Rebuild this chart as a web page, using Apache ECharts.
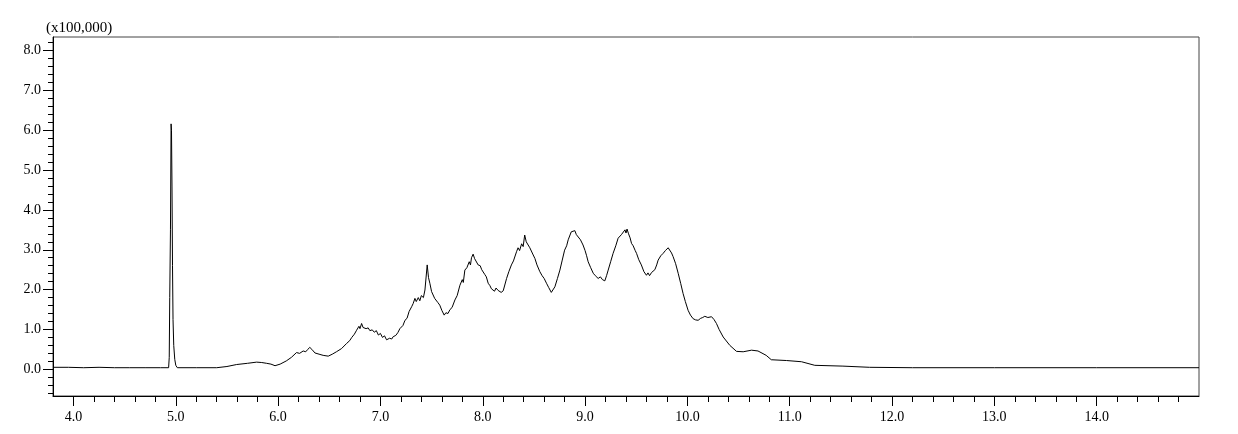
<!DOCTYPE html>
<html>
<head>
<meta charset="utf-8">
<script src="https://cdn.jsdelivr.net/npm/echarts@6/dist/echarts.min.js"></script>
<style>
html,body{margin:0;padding:0;background:#fff;}
#c{width:1238px;height:434px;}
</style>
</head>
<body>
<div id="c"></div>
<script>
// Chromatogram trace: [retention time (min), intensity (x100,000)]
const baselineBefore = [[3.80,0.05],[3.95,0.05],[4.10,0.04],[4.25,0.05],[4.40,0.04],[4.55,0.04],[4.70,0.04],[4.85,0.04],[4.93,0.04]];
const sharpPeak = [[4.936,0.3],[4.941,1.8],[4.948,3.5],[4.954,6.16],[4.958,6.0],[4.963,4.6],[4.968,2.6],[4.973,1.25],[4.980,0.6],[4.990,0.25],[5.000,0.1],[5.015,0.04]];
const earlyHump = [[5.20,0.04],[5.40,0.04],[5.50,0.07],[5.595,0.12],[5.70,0.15],[5.79,0.18],[5.84,0.17],[5.888,0.15],[5.93,0.13],[5.97,0.09],[6.02,0.13],[6.08,0.21],[6.13,0.30],[6.18,0.42],[6.21,0.40],[6.245,0.46],[6.27,0.44],[6.29,0.50],[6.31,0.55],[6.33,0.50],[6.36,0.41],[6.40,0.38],[6.44,0.35],[6.49,0.33],[6.53,0.38],[6.57,0.44],[6.62,0.52],[6.67,0.65],[6.70,0.72],[6.72,0.80],[6.745,0.88],[6.767,0.98]];
const cluster1 = [[6.79,1.08],[6.80,1.02],[6.816,1.15],[6.83,1.05],[6.845,1.10],[6.86,1.02],[6.88,1.04],[6.897,0.97],[6.92,0.99],[6.94,0.93],[6.96,0.97],[6.98,0.86],[7.00,0.90],[7.02,0.80],[7.04,0.84],[7.06,0.74],[7.076,0.70],[7.09,0.78],[7.11,0.76],[7.125,0.82],[7.15,0.85],[7.17,0.92],[7.19,1.02],[7.22,1.10],[7.24,1.23],[7.26,1.28],[7.28,1.45],[7.305,1.57],[7.32,1.65],[7.337,1.78],[7.35,1.70],[7.37,1.80],[7.385,1.72],[7.40,1.85],[7.42,1.80],[7.435,1.99],[7.457,2.62],[7.47,2.30],[7.483,2.16],[7.50,1.95],[7.515,1.90],[7.53,1.78],[7.545,1.82],[7.56,1.68],[7.58,1.61],[7.60,1.48],[7.623,1.36],[7.64,1.42],[7.66,1.40],[7.68,1.50],[7.70,1.55]];
const cluster2 = [[7.728,1.74],[7.75,1.85],[7.777,2.11],[7.80,2.25],[7.81,2.18],[7.825,2.49],[7.845,2.55],[7.868,2.70],[7.88,2.62],[7.89,2.80],[7.906,2.89],[7.92,2.78],[7.935,2.75],[7.955,2.62],[7.975,2.60],[7.99,2.50],[8.004,2.52],[8.02,2.38],[8.035,2.32],[8.053,2.16],[8.07,2.10],[8.085,2.02],[8.10,2.05],[8.115,1.96],[8.13,2.04],[8.15,1.98],[8.165,2.02],[8.18,1.93],[8.20,1.97],[8.215,1.95],[8.233,2.28],[8.255,2.45],[8.28,2.62],[8.30,2.72],[8.33,2.95],[8.345,3.05],[8.36,2.98],[8.38,3.15],[8.395,3.08],[8.41,3.37],[8.425,3.20],[8.444,3.25],[8.46,3.05],[8.475,3.00],[8.493,2.87],[8.51,2.78],[8.53,2.62],[8.545,2.58],[8.558,2.45],[8.58,2.35],[8.60,2.28],[8.623,2.16],[8.645,2.05],[8.67,1.93],[8.685,1.98],[8.705,2.07]];
const cluster3 = [[8.73,2.28],[8.754,2.49],[8.775,2.72],[8.80,2.99],[8.82,3.10],[8.835,3.25],[8.85,3.30],[8.865,3.45],[8.884,3.42],[8.90,3.48],[8.915,3.38],[8.93,3.40],[8.955,3.25],[8.98,3.12],[9.00,2.98],[9.015,2.85],[9.03,2.70],[9.055,2.55],[9.08,2.41],[9.10,2.35],[9.128,2.28],[9.15,2.32],[9.17,2.25],[9.193,2.22],[9.21,2.35],[9.226,2.49],[9.25,2.70],[9.274,2.91],[9.30,3.10],[9.323,3.29],[9.34,3.25],[9.355,3.38],[9.372,3.41],[9.39,3.50],[9.40,3.42],[9.41,3.52],[9.425,3.40],[9.44,3.30],[9.454,3.16],[9.47,3.10],[9.49,2.98],[9.503,2.91],[9.525,2.75],[9.55,2.62],[9.575,2.45],[9.60,2.36],[9.615,2.42],[9.63,2.35],[9.65,2.43],[9.665,2.40],[9.682,2.50],[9.70,2.62],[9.714,2.74],[9.74,2.85],[9.763,2.91],[9.785,2.98],[9.80,2.96],[9.812,3.05],[9.83,3.00],[9.845,2.92],[9.86,2.83]];
const tail = [[9.885,2.65],[9.91,2.41],[9.935,2.15],[9.958,1.90],[9.98,1.70],[10.007,1.48],[10.03,1.36],[10.056,1.27],[10.08,1.24],[10.105,1.23],[10.13,1.28],[10.15,1.30],[10.17,1.33],[10.20,1.30],[10.236,1.32],[10.26,1.25],[10.284,1.15],[10.31,1.00],[10.35,0.81],[10.415,0.60],[10.48,0.45],[10.545,0.44],[10.627,0.48],[10.69,0.46],[10.77,0.35],[10.82,0.24],[10.97,0.22],[11.115,0.19],[11.245,0.10],[11.52,0.08],[11.78,0.05],[12.2,0.04],[13.0,0.04],[14.0,0.04],[15.0,0.04]];

const xMajorTicks = [4,5,6,7,8,9,10,11,12,13,14];
const xMinorTicks = [4.2,4.4,4.6,4.8,5.2,5.4,5.6,5.8,6.2,6.4,6.6,6.8,7.2,7.4,7.6,7.8,8.2,8.4,8.6,8.8,9.2,9.4,9.6,9.8,10.2,10.4,10.6,10.8,11.2,11.4,11.6,11.8,12.2,12.4,12.6,12.8,13.2,13.4,13.6,13.8,14.2,14.4,14.6,14.8];
const yMajorTicks = [0,1,2,3,4,5,6,7,8];
const yMinorTicks = [-0.6,-0.4,-0.2,0.2,0.4,0.6,0.8,1.2,1.4,1.6,1.8,2.2,2.4,2.6,2.8,3.2,3.4,3.6,3.8,4.2,4.4,4.6,4.8,5.2,5.4,5.6,5.8,6.2,6.4,6.6,6.8,7.2,7.4,7.6,7.8,8.2];
const yUnitLabel = '(x100,000)';

const X_MIN = 3.8, X_MAX = 15.0, Y_MIN = -0.67, Y_MAX = 8.34;
const FONT = '"Liberation Serif", "DejaVu Serif", serif';

const data = [].concat(baselineBefore, sharpPeak, earlyHump, cluster1, cluster2, cluster3, tail);
const gridPos = {left: 53, right: 39, top: 37, bottom: 38};

const chart = echarts.init(document.getElementById('c'), null, {renderer: 'canvas'});
chart.setOption({
  animation: false,
  backgroundColor: '#fff',
  grid: [
    Object.assign({show: true, borderColor: '#444', borderWidth: 1, containLabel: false}, gridPos),
    Object.assign({show: false, containLabel: false}, gridPos)
  ],
  graphic: [{
    type: 'text', left: 46, top: 21,
    style: {text: yUnitLabel, font: '15px ' + FONT, fill: '#000'}
  }],
  xAxis: [{
    type: 'value', gridIndex: 0, min: X_MIN, max: X_MAX, position: 'bottom',
    axisLine: {show: true, onZero: false, lineStyle: {color: '#000', width: 1}},
    splitLine: {show: false},
    axisTick: {show: true, length: 10, customValues: xMajorTicks, lineStyle: {color: '#000'}},
    axisLabel: {customValues: xMajorTicks, formatter: v => v.toFixed(1), margin: 14,
      fontFamily: FONT, fontSize: 14, color: '#000'}
  }, {
    type: 'value', gridIndex: 1, min: X_MIN, max: X_MAX, position: 'bottom',
    axisLine: {show: false, onZero: false},
    splitLine: {show: false},
    axisTick: {show: true, length: 6, customValues: xMinorTicks, lineStyle: {color: '#000'}},
    axisLabel: {show: false}
  }],
  yAxis: [{
    type: 'value', gridIndex: 0, min: Y_MIN, max: Y_MAX, position: 'left',
    axisLine: {show: true, onZero: false, lineStyle: {color: '#000', width: 1}},
    splitLine: {show: false},
    axisTick: {show: true, length: 10, customValues: yMajorTicks, lineStyle: {color: '#000'}},
    axisLabel: {customValues: yMajorTicks, formatter: v => v.toFixed(1), margin: 12,
      fontFamily: FONT, fontSize: 14, color: '#000'}
  }, {
    type: 'value', gridIndex: 1, min: Y_MIN, max: Y_MAX, position: 'left',
    axisLine: {show: false, onZero: false},
    splitLine: {show: false},
    axisTick: {show: true, length: 5, customValues: yMinorTicks, lineStyle: {color: '#000'}},
    axisLabel: {show: false}
  }],
  series: [{
    type: 'line', xAxisIndex: 0, yAxisIndex: 0, data: data,
    showSymbol: false, symbol: 'none', smooth: false,
    lineStyle: {color: '#000', width: 1}
  }]
});
</script>
</body>
</html>
